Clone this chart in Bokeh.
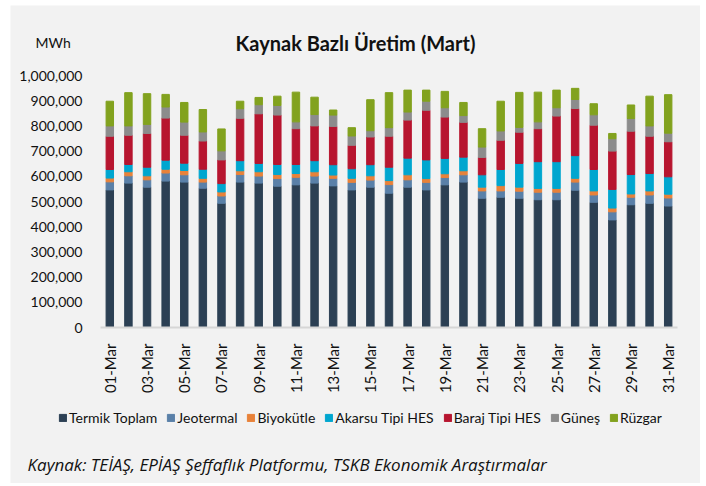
from bokeh.plotting import figure
from bokeh.models import (ColumnDataSource, FixedTicker, NumeralTickFormatter, Range1d,
                          Legend, LegendItem, Label)
from bokeh.embed import file_html
from bokeh.resources import INLINE
from math import pi

days = ["01-Mar", "02-Mar", "03-Mar", "04-Mar", "05-Mar", "06-Mar", "07-Mar", "08-Mar",
        "09-Mar", "10-Mar", "11-Mar", "12-Mar", "13-Mar", "14-Mar", "15-Mar", "16-Mar",
        "17-Mar", "18-Mar", "19-Mar", "20-Mar", "21-Mar", "22-Mar", "23-Mar", "24-Mar",
        "25-Mar", "26-Mar", "27-Mar", "28-Mar", "29-Mar", "30-Mar", "31-Mar"]

termik = [546000, 573000, 557000, 581000, 577000, 553000, 493000, 577000, 573000, 561000,
          566000, 573000, 562000, 546000, 557000, 533000, 557000, 546000, 566000, 577000,
          513000, 517000, 513000, 507000, 507000, 545000, 497000, 427000, 487000, 493000, 482000]
jeotermal = [32000, 29000, 29000, 32000, 29000, 24000, 29000, 30000, 28000, 30000,
             30000, 28000, 30000, 30000, 28000, 34000, 29000, 30000, 29000, 29000,
             29000, 25000, 28000, 30000, 30000, 32000, 29000, 32000, 30000, 33000, 32000]
biyokutle = [15000, 16000, 16000, 15000, 17000, 15000, 16000, 15000, 17000, 16000,
             15000, 17000, 13000, 16000, 17000, 16000, 20000, 15000, 15000, 16000,
             15000, 21000, 16000, 15000, 15000, 15000, 16000, 15000, 13000, 16000, 15000]
akarsu = [34000, 29000, 34000, 36000, 29000, 36000, 33000, 40000, 33000, 40000,
          36000, 44000, 41000, 38000, 44000, 53000, 66000, 74000, 61000, 54000,
          49000, 64000, 94000, 106000, 106000, 90000, 85000, 74000, 77000, 69000, 69000]
baraj = [132000, 116000, 134000, 167000, 111000, 112000, 94000, 168000, 197000, 196000,
         142000, 138000, 152000, 93000, 110000, 123000, 151000, 197000, 164000, 138000,
         69000, 116000, 124000, 131000, 181000, 187000, 176000, 152000, 172000, 148000, 139000]
gunes = [41000, 37000, 36000, 44000, 52000, 36000, 36000, 38000, 36000, 38000,
         27000, 45000, 45000, 37000, 25000, 34000, 32000, 36000, 37000, 27000,
         41000, 37000, 19000, 27000, 33000, 36000, 41000, 49000, 50000, 41000, 34000]
ruzgar = [98000, 132000, 122000, 50000, 78000, 89000, 87000, 30000, 29000, 37000,
          118000, 69000, 20000, 33000, 123000, 139000, 87000, 44000, 65000, 52000,
          73000, 118000, 139000, 118000, 70000, 44000, 44000, 21000, 54000, 118000, 153000]

series_names = ["Termik Toplam", "Jeotermal", "Biyokütle", "Akarsu Tipi HES",
                "Baraj Tipi HES", "Güneş", "Rüzgar"]
keys = ["termik", "jeotermal", "biyokutle", "akarsu", "baraj", "gunes", "ruzgar"]
colors = ["#2c4054", "#5a80a8", "#e8823a", "#00a6cf", "#b7152f", "#8c8c8c", "#82a21e"]

y_ticks = [0, 100000, 200000, 300000, 400000, 500000, 600000, 700000, 800000, 900000, 1000000]

title_text = "Kaynak Bazlı Üretim (Mart)"
unit_text = "MWh"
source_text = "Kaynak: TEİAŞ, EPİAŞ Şeffaflık Platformu, TSKB Ekonomik Araştırmalar"

FONT = "Lato"
TXT = "#111111"
BG = "#f2f2f2"
N = len(days)

# ---- geometry (page pixels) ----
W, H = 690, 478
OX, OY = 10, 5                 # figure offset on the page (margin)
PLOT_L, PLOT_R = 100, 677      # bar area left / right
PLOT_B, PLOT_T = 327, 75       # value 0 / value 1,000,000
YMAX = 1000000
sx = (PLOT_R - PLOT_L) / N
sy = (PLOT_B - PLOT_T) / YMAX
x0 = 0.5 - (PLOT_L - OX) / sx
x1 = x0 + W / sx
y1 = (PLOT_B - OY) / sy
y0 = y1 - H / sy

def dx(px):
    return 0.5 + (px - PLOT_L) / sx

def dy(py):
    return (PLOT_B - py) / sy

src = ColumnDataSource(dict(x=list(range(1, N + 1)), termik=termik, jeotermal=jeotermal,
                            biyokutle=biyokutle, akarsu=akarsu, baraj=baraj, gunes=gunes,
                            ruzgar=ruzgar))

p = figure(width=W, height=H, output_backend="svg", toolbar_location=None,
           x_range=Range1d(x0, x1), y_range=Range1d(y0, y1),
           min_border=0, min_border_left=0, min_border_right=0,
           min_border_top=0, min_border_bottom=0,
           background_fill_color=BG, border_fill_color=BG, outline_line_color=None)
p.margin = (OY, 6, 0, OX)

rs = p.vbar_stack(keys, x="x", width=0.4, color=colors, source=src)

p.grid.visible = False

# y axis placed at the left edge of the bar area
p.yaxis.fixed_location = 0.5
p.yaxis.bounds = (0, YMAX)
p.yaxis.ticker = FixedTicker(ticks=y_ticks)
p.yaxis.formatter = NumeralTickFormatter(format="0,0")
p.yaxis.axis_line_color = None
p.yaxis.major_tick_line_color = None
p.yaxis.minor_tick_line_color = None
p.yaxis.major_label_standoff = 12
p.yaxis.major_label_text_font = FONT
p.yaxis.major_label_text_font_size = "14px"
p.yaxis.major_label_text_color = TXT

# x axis placed at value 0
odd = list(range(1, N + 1, 2))
p.xaxis.fixed_location = 0
p.xaxis.bounds = (0.5, N + 0.5)
p.xaxis.ticker = FixedTicker(ticks=odd)
p.xaxis.major_label_overrides = {i: days[i - 1] for i in odd}
p.xaxis.major_label_orientation = pi / 2
p.xaxis.axis_line_color = "#d6d6d6"
p.xaxis.axis_line_width = 2
p.xaxis.major_tick_line_color = None
p.xaxis.minor_tick_line_color = None
p.xaxis.major_label_standoff = 10
p.xaxis.major_label_text_font = FONT
p.xaxis.major_label_text_font_size = "15px"
p.xaxis.major_label_text_color = TXT

p.add_layout(Label(x=dx(355), y=dy(42), text=title_text, text_align="center",
                   text_baseline="middle", text_font=FONT, text_font_style="bold",
                   text_font_size="20px", text_color=TXT))
p.add_layout(Label(x=dx(35), y=dy(42), text=unit_text, text_align="left",
                   text_baseline="middle", text_font=FONT, text_font_size="14px",
                   text_color=TXT))
p.add_layout(Label(x=dx(27), y=dy(464), text=source_text, text_align="left",
                   text_baseline="middle", text_font="Open Sans", text_font_style="italic",
                   text_font_size="17px", text_color=TXT))

items = [LegendItem(label=n, renderers=[r]) for n, r in zip(series_names, rs)]
legend = Legend(items=items, orientation="horizontal", location=(48, 57),
                background_fill_alpha=0, border_line_color=None,
                glyph_width=9, glyph_height=9, label_standoff=2, spacing=9,
                padding=0, margin=0, label_text_font=FONT, label_text_font_size="14px",
                label_text_color=TXT)
p.add_layout(legend)

open("out.html", "w").write(file_html(p, INLINE))
